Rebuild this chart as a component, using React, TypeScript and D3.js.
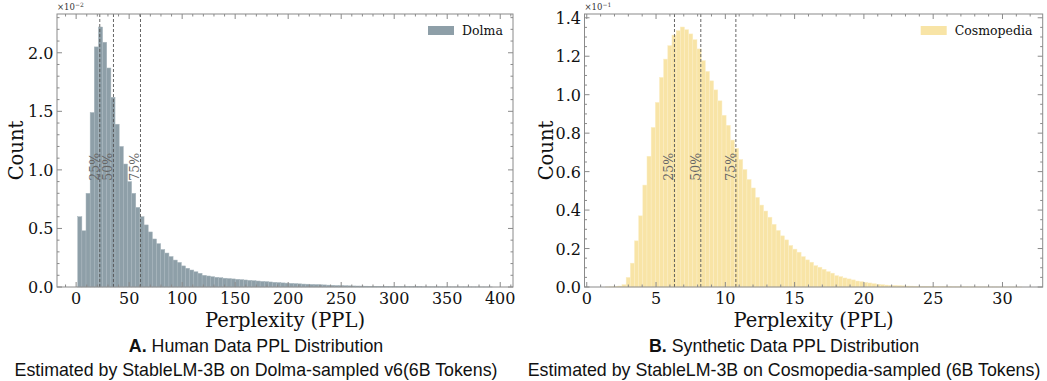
import React from "react";
import * as d3 from "d3";

// Dolma (human data) histogram, heights in units of 1e-2
const dolmaBinStart = 1.5;
const dolmaBinWidth = 3.91;
const dolmaCounts = [
  0.60, 0.48, 0.80, 1.49, 2.05, 2.22, 2.09, 1.87, 1.62, 1.39, 1.20, 1.05, 0.90, 0.80, 0.68, 0.60,
  0.53, 0.47, 0.41, 0.37, 0.32, 0.29, 0.26, 0.23, 0.21, 0.18, 0.16, 0.145, 0.13, 0.117, 0.10, 0.094,
  0.088, 0.083, 0.079, 0.075, 0.072, 0.069,
  0.066, 0.063, 0.060, 0.057, 0.054, 0.051, 0.048, 0.046, 0.043, 0.040, 0.038, 0.035, 0.033, 0.031,
  0.029, 0.027, 0.025, 0.024, 0.022, 0.021, 0.019, 0.018, 0.016, 0.015, 0.013, 0.012, 0.011, 0.010,
  0.009, 0.0085, 0.008, 0.007, 0.0065, 0.006, 0.0055, 0.005, 0.0045, 0.004,
  0.0036, 0.0033, 0.003, 0.0028, 0.0026, 0.0024, 0.0022, 0.002, 0.0019, 0.0018, 0.0016, 0.0015,
  0.0014, 0.0013, 0.0012, 0.0011, 0.001, 0.0009, 0.0008, 0.0008, 0.0007, 0.0006, 0.0005, 0.0005,
];
const dolmaQuantiles = [22.3, 35.2, 60.7];
const dolmaXTicks = [0, 50, 100, 150, 200, 250, 300, 350, 400];
const dolmaYTicks = [0, 0.5, 1.0, 1.5, 2.0];

// Cosmopedia (synthetic data) histogram, heights in units of 1e-1
const cosmoBinStart = 1.34;
const cosmoBinWidth = 0.3006;
const cosmoCounts = [
  0.0005, 0.001, 0.002, 0.005, 0.012, 0.05, 0.124, 0.24, 0.37, 0.53, 0.68, 0.83, 0.96, 1.09, 1.185,
  1.255, 1.31, 1.333, 1.352, 1.338, 1.316, 1.286, 1.238, 1.177, 1.121, 1.072, 1.025, 0.968, 0.893,
  0.841, 0.764, 0.721, 0.663, 0.611, 0.559, 0.515, 0.466, 0.426, 0.395, 0.363, 0.326, 0.294, 0.266,
  0.245, 0.216, 0.197, 0.181, 0.158, 0.141, 0.129, 0.111, 0.103, 0.092, 0.080, 0.072, 0.059, 0.054,
  0.047, 0.042, 0.037, 0.031, 0.028, 0.024, 0.021, 0.017, 0.014, 0.012, 0.010, 0.009, 0.008, 0.007,
  0.006, 0.005, 0.0045, 0.004, 0.0035, 0.003, 0.0027, 0.0024, 0.002, 0.0018, 0.0016, 0.0014, 0.0013,
  0.0012, 0.001, 0.0009, 0.0008, 0.0008, 0.0007, 0.0006, 0.0006, 0.0005, 0.0005, 0.0004, 0.0004,
  0.0003, 0.0003, 0.0002, 0.0002,
];
const cosmoQuantiles = [6.33, 8.23, 10.76];
const cosmoXTicks = [0, 5, 10, 15, 20, 25, 30];
const cosmoYTicks = [0, 0.2, 0.4, 0.6, 0.8, 1.0, 1.2, 1.4];

const quantileLabels = ["25%", "50%", "75%"];

const SERIF = "'DejaVu Serif', serif";
const SANS = "'Liberation Sans', Arial, sans-serif";
const SPINE = "#8a8a8a";

type PanelProps = {
  x0: number;
  x1: number;
  counts: number[];
  binStart: number;
  binWidth: number;
  quantiles: number[];
  xTicks: number[];
  yTicks: number[];
  xMinor: number;
  yMinor: number;
  fill: string;
  stroke: string;
  legend: string;
  legendOffset: number;
  exponent: string;
  ylabelX: number;
  captionX: number;
  title: string;
  subtitle: string;
};

const top = 14;
const bottom = 287;

function minorTicks(lo: number, hi: number, step: number, majors: number[]) {
  const start = Math.ceil(lo / step) * step;
  return d3
    .range(start, hi + 1e-9, step)
    .filter((v) => !majors.some((m) => Math.abs(m - v) < step * 0.01));
}

function Panel(p: PanelProps) {
  const binEnd = p.binStart + p.binWidth * p.counts.length;
  const pad = (binEnd - p.binStart) * 0.05;
  const x = d3.scaleLinear().domain([p.binStart - pad, binEnd + pad]).range([p.x0, p.x1]);
  const yMax = d3.max(p.counts)! * 1.05;
  const y = d3.scaleLinear().domain([0, yMax]).range([bottom, top]);
  const [xlo, xhi] = x.domain();
  const xMinors = minorTicks(xlo, xhi, p.xMinor, p.xTicks);
  const yMinors = minorTicks(0, yMax, p.yMinor, p.yTicks);
  const fmt = d3.format(".1f");
  const majorLen = 5;
  const minorLen = 2.5;
  const [titleHead, ...titleRest] = p.title.split(" ");

  return (
    <g>
      {p.counts.map((c, i) => {
        const a = p.binStart + i * p.binWidth;
        return (
          <rect
            key={i}
            x={x(a)}
            width={x(a + p.binWidth) - x(a)}
            y={y(c)}
            height={y(0) - y(c)}
            fill={p.fill}
            stroke={p.stroke}
            strokeWidth={0.5}
          />
        );
      })}
      {p.quantiles.map((q, i) => (
        <g key={i}>
          <line
            x1={x(q)}
            x2={x(q)}
            y1={top}
            y2={bottom}
            stroke="#555"
            strokeWidth={0.9}
            strokeDasharray="3,2"
          />
          <text
            transform={`translate(${x(q) - 1},${y(yMax * 0.44)}) rotate(-90)`}
            textAnchor="middle"
            fontFamily={SERIF}
            fontSize={12.5}
            fill="#666"
          >
            {quantileLabels[i]}
          </text>
        </g>
      ))}
      <rect x={p.x0} y={top} width={p.x1 - p.x0} height={bottom - top} fill="none" stroke={SPINE} strokeWidth={1} />
      {p.xTicks.map((t) => (
        <g key={t}>
          <line x1={x(t)} x2={x(t)} y1={bottom} y2={bottom - majorLen} stroke={SPINE} />
          <line x1={x(t)} x2={x(t)} y1={top} y2={top + majorLen} stroke={SPINE} />
          <text x={x(t)} y={bottom + 17} textAnchor="middle" fontFamily={SERIF} fontSize={16} fill="#111">
            {t}
          </text>
        </g>
      ))}
      {xMinors.map((t) => (
        <g key={"m" + t}>
          <line x1={x(t)} x2={x(t)} y1={bottom} y2={bottom - minorLen} stroke={SPINE} />
          <line x1={x(t)} x2={x(t)} y1={top} y2={top + minorLen} stroke={SPINE} />
        </g>
      ))}
      {p.yTicks.map((t) => (
        <g key={t}>
          <line x1={p.x0} x2={p.x0 + majorLen} y1={y(t)} y2={y(t)} stroke={SPINE} />
          <line x1={p.x1} x2={p.x1 - majorLen} y1={y(t)} y2={y(t)} stroke={SPINE} />
          <text x={p.x0 - 3.5} y={y(t) + 6} textAnchor="end" fontFamily={SERIF} fontSize={16} fill="#111">
            {fmt(t)}
          </text>
        </g>
      ))}
      {yMinors.map((t) => (
        <g key={"m" + t}>
          <line x1={p.x0} x2={p.x0 + minorLen} y1={y(t)} y2={y(t)} stroke={SPINE} />
          <line x1={p.x1} x2={p.x1 - minorLen} y1={y(t)} y2={y(t)} stroke={SPINE} />
        </g>
      ))}
      <text x={p.x0} y={top - 4} fontFamily={SERIF} fontSize={8.5} fill="#333">
        ×10
        <tspan dy={-3} fontSize={6}>
          {p.exponent}
        </tspan>
      </text>
      <rect x={p.x1 - p.legendOffset} y={26} width={26} height={9} fill={p.fill} />
      <text x={p.x1 - p.legendOffset + 34} y={35} fontFamily={SERIF} fontSize={12.5} fill="#111">
        {p.legend}
      </text>
      <text
        x={(p.x0 + p.x1) / 2}
        y={327}
        textAnchor="middle"
        fontFamily={SERIF}
        fontSize={19.5}
        fill="#111"
      >
        Perplexity (PPL)
      </text>
      <text
        transform={`translate(${p.ylabelX},${(top + bottom) / 2}) rotate(-90)`}
        textAnchor="middle"
        fontFamily={SERIF}
        fontSize={19.5}
        fill="#111"
      >
        Count
      </text>
      <text x={p.captionX} y={352} textAnchor="middle" fontFamily={SANS} fontSize={17.8} fill="#111">
        <tspan fontWeight="bold">{titleHead}</tspan>
        {" " + titleRest.join(" ")}
      </text>
      <text x={p.captionX} y={376} textAnchor="middle" fontFamily={SANS} fontSize={17.8} fill="#111">
        {p.subtitle}
      </text>
    </g>
  );
}

export default function App() {
  return (
    <svg
      width={1047}
      height={381}
      style={{ position: "absolute", left: 0, top: 0, background: "#fff" }}
    >
      <Panel
        x0={57}
        x1={513}
        counts={dolmaCounts}
        binStart={dolmaBinStart}
        binWidth={dolmaBinWidth}
        quantiles={dolmaQuantiles}
        xTicks={dolmaXTicks}
        yTicks={dolmaYTicks}
        xMinor={10}
        yMinor={0.1}
        fill="#8e9fa8"
        stroke="#a8b6bd"
        legend="Dolma"
        legendOffset={85}
        exponent="−2"
        ylabelX={23}
        captionX={256}
        title="A. Human Data PPL Distribution"
        subtitle="Estimated by StableLM-3B on Dolma-sampled v6(6B Tokens)"
      />
      <Panel
        x0={584.5}
        x1={1042.7}
        counts={cosmoCounts}
        binStart={cosmoBinStart}
        binWidth={cosmoBinWidth}
        quantiles={cosmoQuantiles}
        xTicks={cosmoXTicks}
        yTicks={cosmoYTicks}
        xMinor={1}
        yMinor={0.05}
        fill="#f8e4a6"
        stroke="#fbeec6"
        legend="Cosmopedia"
        legendOffset={122}
        exponent="−1"
        ylabelX={553}
        captionX={784}
        title="B. Synthetic Data PPL Distribution"
        subtitle="Estimated by StableLM-3B on Cosmopedia-sampled (6B Tokens)"
      />
    </svg>
  );
}
